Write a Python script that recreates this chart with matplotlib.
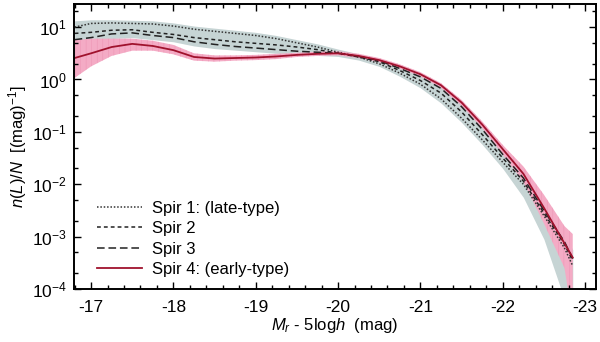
import numpy as np
import matplotlib
matplotlib.use("Agg")
import matplotlib.pyplot as plt
from matplotlib.ticker import LogLocator, MultipleLocator, NullFormatter

plt.rcParams['font.family'] = ['Liberation Sans', 'DejaVu Sans']
plt.rcParams['mathtext.fontset'] = 'custom'
plt.rcParams['mathtext.rm'] = 'Liberation Sans'
plt.rcParams['mathtext.it'] = 'Liberation Sans:italic'
plt.rcParams['hatch.linewidth'] = 0.4

# magnitude grid (M_r - 5 log h)
mag = [-16.8, -17.0, -17.25, -17.5, -17.75, -18.0, -18.25, -18.5, -18.75, -19.0,
       -19.25, -19.5, -19.75, -20.0, -20.25, -20.5, -20.75, -21.0, -21.25, -21.5,
       -21.75, -22.0, -22.25, -22.5, -22.75, -22.85]

# log10 n(L)/N
spir1 = [1.00, 1.07, 1.08, 1.07, 1.06, 1.02, 0.96, 0.92, 0.88, 0.84,
         0.78, 0.70, 0.62, 0.52, 0.43, 0.30, 0.12, -0.09, -0.37, -0.74,
         -1.15, -1.58, -2.00, -2.60, -3.22, -3.56]
spir2 = [0.88, 0.90, 0.94, 0.95, 0.90, 0.86, 0.80, 0.76, 0.72, 0.69,
         0.66, 0.62, 0.57, 0.50, 0.43, 0.34, 0.17, -0.02, -0.26, -0.62,
         -1.05, -1.50, -1.94, -2.55, -3.15, -3.46]
spir3 = [0.76, 0.80, 0.87, 0.89, 0.84, 0.80, 0.72, 0.67, 0.63, 0.60,
         0.57, 0.54, 0.52, 0.50, 0.44, 0.36, 0.21, 0.05, -0.17, -0.52,
         -0.95, -1.43, -1.88, -2.50, -3.10, -3.42]
spir4 = [0.41, 0.50, 0.62, 0.68, 0.64, 0.56, 0.43, 0.40, 0.41, 0.42,
         0.44, 0.47, 0.49, 0.50, 0.45, 0.37, 0.25, 0.10, -0.11, -0.44,
         -0.86, -1.33, -1.80, -2.45, -3.13, -3.40]

# shaded ranges (log10)
grey_hi = [1.12, 1.14, 1.14, 1.13, 1.12, 1.08, 1.02, 0.98, 0.94, 0.90,
           0.84, 0.76, 0.68, 0.58, 0.49, 0.39, 0.25, 0.09, -0.13, -0.47,
           -0.90, -1.38, -1.82, -2.40, -2.95, -3.25]
grey_lo = [0.66, 0.70, 0.78, 0.80, 0.76, 0.72, 0.64, 0.59, 0.56, 0.53,
           0.50, 0.48, 0.46, 0.44, 0.37, 0.25, 0.06, -0.16, -0.45, -0.82,
           -1.24, -1.70, -2.25, -3.05, -4.20, -4.60]
pink_hi = [0.75, 0.78, 0.78, 0.78, 0.74, 0.66, 0.50, 0.46, 0.46, 0.47,
           0.49, 0.51, 0.53, 0.54, 0.49, 0.41, 0.29, 0.14, -0.07, -0.39,
           -0.80, -1.25, -1.66, -2.20, -2.80, -2.95]
pink_lo = [0.03, 0.25, 0.45, 0.55, 0.55, 0.48, 0.36, 0.34, 0.36, 0.37,
           0.39, 0.43, 0.45, 0.46, 0.41, 0.33, 0.21, 0.06, -0.16, -0.50,
           -0.93, -1.43, -1.95, -2.75, -3.60, -4.60]

mag = np.array(mag)
p = lambda a: 10.0 ** np.array(a)

fig = plt.figure(figsize=(6.0, 3.42), dpi=100)
ax = fig.add_axes([0.123, 0.155, 0.870, 0.833])

ax.fill_between(mag, p(grey_lo), p(grey_hi), color='#c6d4d4', lw=0)
ax.fill_between(mag, p(pink_lo), p(pink_hi), facecolor='#f4abc5', edgecolor='#ee96b5',
                hatch='|||', lw=0)

ax.plot(mag, p(spir1), color='#333333', lw=1.1, ls=(0, (1, 1.2)), label='Spir 1: (late-type)')
ax.plot(mag, p(spir2), color='#222222', lw=1.1, ls=(0, (2.5, 2)), label='Spir 2')
ax.plot(mag, p(spir3), color='#222222', lw=1.1, ls=(0, (5, 2.5)), label='Spir 3')
ax.plot(mag, p(spir4), color='#a0122d', lw=1.3, label='Spir 4: (early-type)')

ax.set_yscale('log')
ax.set_xlim(-16.79, -23.13)
ax.set_ylim(1e-4, 27.5)

ax.xaxis.set_major_locator(MultipleLocator(1))
ax.xaxis.set_minor_locator(MultipleLocator(0.2))
ax.yaxis.set_major_locator(LogLocator(base=10, numticks=10))
ax.yaxis.set_minor_locator(LogLocator(base=10, subs=(2.0, 5.0), numticks=20))
ax.yaxis.set_minor_formatter(NullFormatter())
ax.set_xticklabels([str(int(t)) for t in ax.get_xticks()])

ax.tick_params(which='both', direction='in', top=True, right=True, labelsize=12.5, width=1.0)
ax.tick_params(which='major', length=5)
ax.tick_params(which='minor', length=3)
ax.tick_params(axis='x', pad=8)
ax.tick_params(axis='y', pad=5)
for s in ax.spines.values():
    s.set_linewidth(1.4)

ax.set_xlabel('$M_r$ - 5log$h$  (mag)', fontsize=12, labelpad=1)
ax.set_ylabel('$n(L)/N$  [(mag)$^{-1}$]', fontsize=12, labelpad=2)

ax.legend(loc='lower left', frameon=False, fontsize=12, handlelength=2.7,
          handletextpad=0.6, labelspacing=0.32, bbox_to_anchor=(0.015, -0.01))

fig.savefig('out.png', dpi=100)
